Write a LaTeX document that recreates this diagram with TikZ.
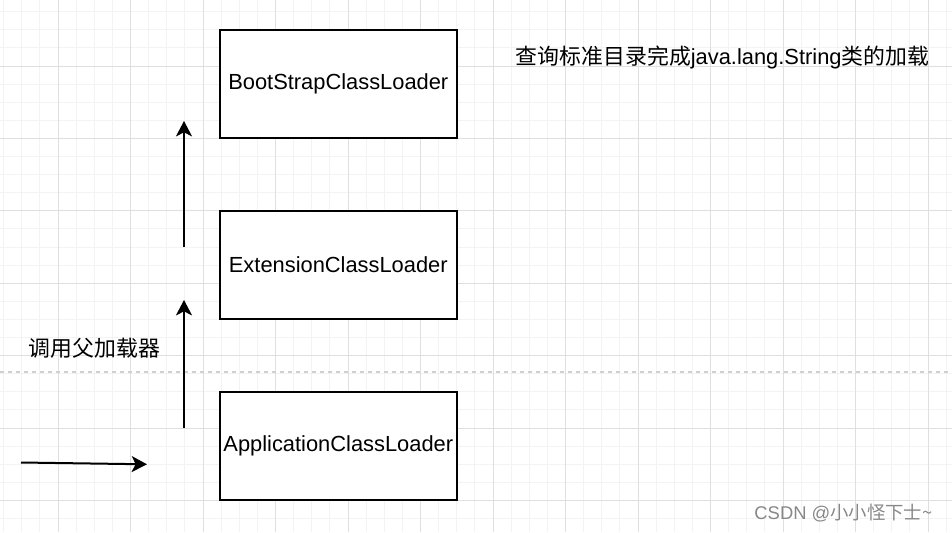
\documentclass[tikz,border=0pt]{standalone}
\usepackage{fontspec}
\setmainfont{Liberation Sans}
\newfontfamily\cjk{Noto Sans CJK SC}
\usetikzlibrary{arrows.meta}

\definecolor{gridminor}{RGB}{243,243,243}
\definecolor{gridmajor}{RGB}{223,223,223}
\definecolor{sepgray}{RGB}{208,208,208}
\definecolor{markgray}{RGB}{135,135,135}

\begin{document}
\begin{tikzpicture}[x=0.75pt,y=-0.75pt,
  loaderbox/.style={draw=black,line width=1.5pt,fill=white,inner sep=0pt,
    minimum width=177.4pt,minimum height=81.4pt,font=\fontsize{16.4}{19}\selectfont},
  note/.style={inner sep=0pt,font=\fontsize{16.4}{19}\selectfont},
  callarrow/.style={line width=1.5pt,-{Stealth[length=11.5pt,width=12pt,inset=3pt]}}]
  \useasboundingbox (0,0) rectangle (952,532);
  % background grid
  \begin{scope}
    \clip (0,0) rectangle (952,532);
    \foreach \i in {-4,...,50}
      \draw[gridminor,line width=0.75pt] ({58+18.125*\i},0) -- ({58+18.125*\i},532);
    \foreach \i in {-4,...,27}
      \draw[gridminor,line width=0.75pt] (0,{66+18.1*\i}) -- (952,{66+18.1*\i});
    \foreach \i in {-1,...,12}
      \draw[gridmajor,line width=0.75pt] ({58+72.5*\i},0) -- ({58+72.5*\i},532);
    \foreach \i in {-1,...,7}
      \draw[gridmajor,line width=0.75pt] (0,{66+72.4*\i}) -- (952,{66+72.4*\i});
  \end{scope}
  \draw[sepgray,line width=1.5pt,dash pattern=on 3pt off 3pt] (0,372) -- (952,372);

  \node[loaderbox] (boot) at (338.3,84.2) {BootStrapClassLoader};
  \node[loaderbox] (ext) at (338.3,265.1) {ExtensionClassLoader};
  \node[loaderbox] (app) at (338.3,446.1) {ApplicationClassLoader};

  \node[note] (call) at (94.5,348) {\cjk 调用父加载器};
  \node[note] (find) at (722.5,57) {{\cjk 查询标准目录完成}java.lang.String{\cjk 类的加载}};
  \node[inner sep=0pt,text=markgray,font=\fontsize{13.8}{16}\selectfont] (mark) at (843.5,513)
    {CSDN @{\cjk 小小怪下士\textasciitilde}};

  \coordinate (in0) at (21,462.5);
  \coordinate (in1) at (147,464.3);
  \coordinate (up0) at (184,428);
  \coordinate (up1) at (184,300);
  \coordinate (up2) at (184,247);
  \coordinate (up3) at (184,121);
  \draw[callarrow] (in0) -- (in1);
  \draw[callarrow] (up0) -- (up1);
  \draw[callarrow] (up2) -- (up3);
\end{tikzpicture}
\end{document}
